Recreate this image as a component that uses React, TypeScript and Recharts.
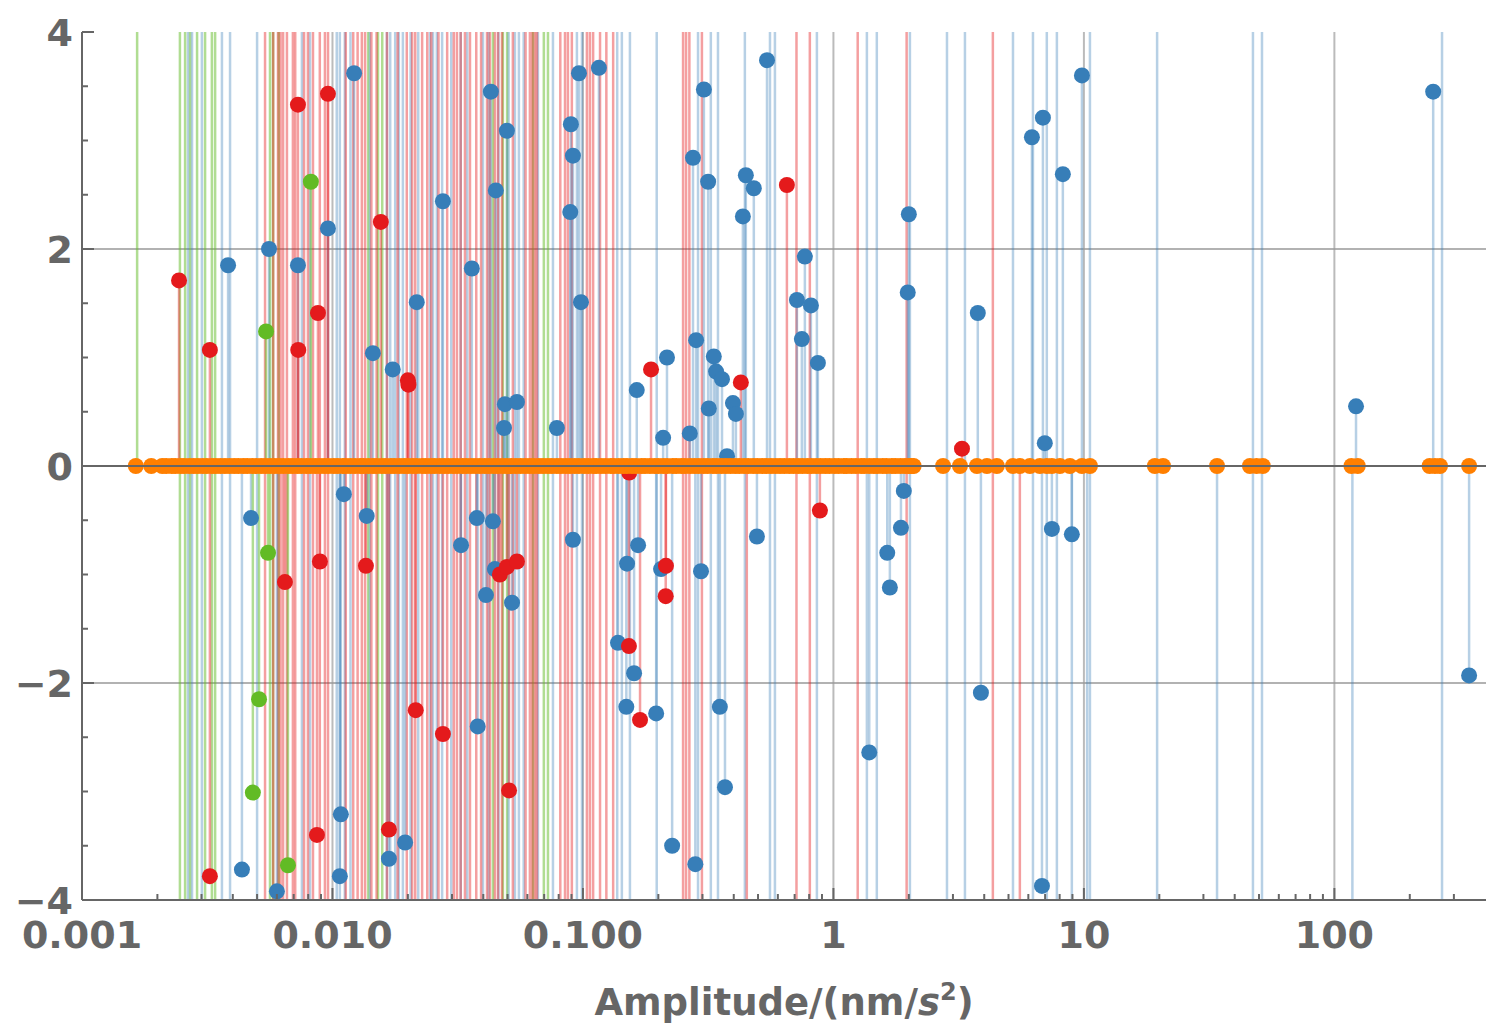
import React from 'react';
import { ComposedChart, Scatter, XAxis, YAxis, ReferenceLine } from 'recharts';

// amplitude (nm/s^2) vs. value
const bluePoints: [number, number][] = [
  [0.00383, 1.85], [0.00558, 2.0], [0.00728, 1.85], [0.00959, 2.19], [0.0122, 3.62],
  [0.0217, 1.51], [0.0276, 2.44], [0.036, 1.82], [0.0429, 3.45], [0.0449, 2.54],
  [0.0497, 3.09], [0.0145, 1.04], [0.0174, 0.89], [0.0488, 0.57], [0.0545, 0.59],
  [0.0484, 0.35], [0.0787, 0.35], [0.0895, 3.15], [0.0912, 2.86], [0.089, 2.34],
  [0.0964, 3.62], [0.1158, 3.67], [0.0982, 1.51], [0.164, 0.7], [0.2165, 1.0],
  [0.209, 0.26], [0.267, 0.3], [0.275, 2.84], [0.304, 3.47], [0.316, 2.62],
  [0.283, 1.16], [0.333, 1.01], [0.34, 0.87], [0.359, 0.8], [0.318, 0.53],
  [0.397, 0.58], [0.408, 0.48], [0.376, 0.09], [0.447, 2.68], [0.481, 2.56],
  [0.435, 2.3], [0.543, 3.74], [0.769, 1.93], [0.715, 1.53], [0.813, 1.48],
  [0.748, 1.17], [0.867, 0.95], [2.0, 2.32], [1.98, 1.6], [3.77, 1.41],
  [6.2, 3.03], [6.86, 3.21], [8.24, 2.69], [9.82, 3.6], [6.98, 0.21],
  [122, 0.55], [248, 3.45],
  [0.00473, -0.48], [0.0111, -0.26], [0.0137, -0.46], [0.0326, -0.73], [0.0377, -0.48],
  [0.0437, -0.51], [0.0445, -0.95], [0.041, -1.19], [0.0521, -1.26], [0.0912, -0.68],
  [0.15, -0.9], [0.166, -0.73], [0.205, -0.95], [0.296, -0.97], [0.138, -1.63],
  [0.16, -1.91], [0.149, -2.22], [0.196, -2.28], [0.352, -2.22], [0.495, -0.65],
  [0.369, -2.96], [0.227, -3.5], [0.281, -3.67], [0.038, -2.4], [0.0108, -3.21],
  [0.0195, -3.47], [0.0168, -3.62], [0.0107, -3.78], [0.00435, -3.72], [0.006, -3.92],
  [1.39, -2.64], [1.64, -0.8], [1.68, -1.12], [1.86, -0.57], [1.91, -0.23],
  [3.88, -2.09], [7.45, -0.58], [8.95, -0.63], [6.8, -3.87], [345, -1.93],
];

const redPoints: [number, number][] = [
  [0.00244, 1.71], [0.00324, 1.07], [0.00728, 3.33], [0.00959, 3.43], [0.0073, 1.07],
  [0.00875, 1.41], [0.0156, 2.25], [0.02, 0.79], [0.0201, 0.75], [0.187, 0.89],
  [0.427, 0.77], [0.652, 2.59], [3.26, 0.16], [0.883, -0.41], [0.00646, -1.07],
  [0.00891, -0.88], [0.0136, -0.92], [0.0466, -1.0], [0.0497, -0.93], [0.0545, -0.88],
  [0.2145, -0.92], [0.214, -1.2], [0.1526, -1.66], [0.169, -2.34], [0.0215, -2.25],
  [0.0276, -2.47], [0.0507, -2.99], [0.00867, -3.4], [0.0168, -3.35], [0.00324, -3.78],
  [0.153, -0.06],
];

const greenPoints: [number, number][] = [
  [0.0082, 2.62], [0.00543, 1.24], [0.00553, -0.8], [0.00509, -2.15], [0.00481, -3.01],
  [0.00664, -3.68],
];

// orange series sits on zero, dense up to ~2 nm/s^2
const orangeX = [
  0.00164, 0.00189, 0.00209, 0.00217, 0.00228, 0.00236, 0.00247, 0.00256, 0.00268, 0.00279,
  0.0029, 0.00303, 0.00315, 0.0033, 0.00342, 0.00357, 0.00372, 0.00388, 0.00405, 0.00421,
  0.0044, 0.00457, 0.00478, 0.00497, 0.00519, 0.0054, 0.00563, 0.00587, 0.00612, 0.00637,
  0.00666, 0.00693, 0.00723, 0.00752, 0.00786, 0.00817, 0.00853, 0.00888, 0.00927, 0.00964,
  0.0101, 0.0105, 0.011, 0.0113, 0.0118, 0.0123, 0.0129, 0.0133, 0.0139, 0.0145,
  0.015, 0.0157, 0.0163, 0.0171, 0.0177, 0.0185, 0.0193, 0.02, 0.0209, 0.0217,
  0.0228, 0.0236, 0.0247, 0.0256, 0.0268, 0.0279, 0.029, 0.0303, 0.0315, 0.033,
  0.0342, 0.0357, 0.0372, 0.0388, 0.0405, 0.0421, 0.044, 0.0457, 0.0478, 0.0497,
  0.0519, 0.054, 0.0563, 0.0587, 0.0612, 0.0637, 0.0666, 0.0693, 0.0723, 0.0752,
  0.0786, 0.0817, 0.0853, 0.0888, 0.0927, 0.0964,
  0.101, 0.105, 0.11, 0.113, 0.118, 0.123, 0.129, 0.133, 0.139, 0.145,
  0.15, 0.157, 0.163, 0.171, 0.177, 0.185, 0.193, 0.2, 0.209, 0.217,
  0.228, 0.236, 0.247, 0.256, 0.268, 0.279, 0.29, 0.303, 0.315, 0.33,
  0.342, 0.357, 0.372, 0.388, 0.405, 0.421, 0.44, 0.457, 0.478, 0.497,
  0.519, 0.54, 0.563, 0.587, 0.612, 0.637, 0.666, 0.693, 0.723, 0.752,
  0.786, 0.817, 0.853, 0.888, 0.927, 0.964,
  1.01, 1.05, 1.1, 1.13, 1.18, 1.23, 1.29, 1.33, 1.39, 1.45,
  1.5, 1.57, 1.63, 1.71, 1.77, 1.85, 1.93, 2.0, 2.05, 2.09,
  2.74, 3.2, 3.74, 4.1, 4.49, 5.21, 5.55, 6.09, 6.67, 7.11, 7.45, 8.02, 8.79, 9.82, 10.57,
  19.2, 20.7, 34.0, 46.0, 48.9, 51.8, 117, 124, 240, 252, 264, 345,
];

// spikes that run past the plot range
const blueLines = [
  0.00265, 0.00275, 0.00301, 0.00362, 0.0039, 0.005, 0.00755, 0.00813, 0.0104, 0.0107,
  0.0112, 0.0118, 0.0141, 0.0165, 0.017, 0.0178, 0.0184, 0.0191, 0.0205, 0.022,
  0.0245, 0.0252, 0.0261, 0.0274, 0.0298, 0.0325, 0.0345, 0.0399, 0.042, 0.046,
  0.0505, 0.0535, 0.0555, 0.058, 0.0661, 0.0759, 0.0946, 0.0991, 0.137, 0.143,
  0.154, 0.197, 0.288, 0.324, 0.346, 0.443, 0.558, 0.584, 0.859, 1.36,
  1.49, 2.02, 2.84, 3.35, 5.21, 6.26, 7.11, 7.8, 10.57, 19.6,
  47.3, 51.4, 269,
];
const blueDown = [8.95, 10.3, 34.0, 118];
const redLines = [
  0.00538, 0.0058, 0.00606, 0.0062, 0.00635, 0.00658, 0.00695, 0.0071, 0.0077, 0.00798,
  0.00836, 0.0089, 0.00933, 0.0096, 0.0113, 0.0121, 0.0126, 0.0131, 0.0135, 0.0143,
  0.015, 0.0165, 0.0182, 0.0198, 0.0208, 0.0214, 0.0228, 0.0239, 0.0248, 0.0265,
  0.0287, 0.0305, 0.0314, 0.0325, 0.0338, 0.0354, 0.0375, 0.0392, 0.0414, 0.0425,
  0.0445, 0.0458, 0.0475, 0.0525, 0.059, 0.0614, 0.0628, 0.0643, 0.0655, 0.0812,
  0.0848, 0.0871, 0.0903, 0.1037, 0.1066, 0.1098, 0.117, 0.124, 0.132, 0.251,
  0.258, 0.266, 0.2985, 0.712, 0.805, 1.25, 1.96, 4.33,
];
const redDown = [0.451, 5.55];
const greenLines = [
  0.00246, 0.00258, 0.0027, 0.00288, 0.0031, 0.0033, 0.0034, 0.00563, 0.00579, 0.0061,
  0.0139, 0.0152, 0.0158, 0.0437, 0.0479, 0.0498, 0.0632, 0.0698, 0.0725,
];
const greenUp = [0.00166];

const xMajor = [0.001, 0.01, 0.1, 1, 10, 100];
const xMajorLabels = ['0.001', '0.010', '0.100', '1', '10', '100'];
const xMinor = [
  0.002, 0.003, 0.004, 0.005, 0.006, 0.007, 0.008, 0.009,
  0.02, 0.03, 0.04, 0.05, 0.06, 0.07, 0.08, 0.09,
  0.2, 0.3, 0.4, 0.5, 0.6, 0.7, 0.8, 0.9,
  2, 3, 4, 5, 6, 7, 8, 9,
  20, 30, 40, 50, 60, 70, 80, 90,
  200, 300,
];
const yMajor = [-4, -2, 0, 2, 4];
const yMajorLabels = ['\u22124', '\u22122', '0', '2', '4'];
const yMinor = [-3.5, -3, -2.5, -1.5, -1, -0.5, 0.5, 1, 1.5, 2.5, 3, 3.5];
const xGrid = [0.01, 0.1, 1, 10, 100];
const yGrid = [-2, 2];

const BLUE = '#377eb8';
const RED = '#e41a1c';
const GREEN = '#62bb25';
const ORANGE = '#ff7f00';
const AXIS = '#666666';
const FONT = '"DejaVu Sans", sans-serif';

const toXY = (pts: [number, number][]) => pts.map(([x, y]) => ({ x, y }));

const dot = (color: string) => (p: any) => (
  <circle cx={p.cx} cy={p.cy} r={8} fill={color} />
);

function BottomTick({ x, y, payload }: any) {
  const i = xMajor.indexOf(payload.value);
  return (
    <g>
      <line x1={x} x2={x} y1={y} y2={y - (i >= 0 ? 12 : 6)} stroke={AXIS} strokeWidth={2} />
      {i >= 0 && (
        <text x={x} y={y + 48} textAnchor="middle" fill={AXIS} fontSize={38} fontWeight="bold" fontFamily={FONT}>
          {xMajorLabels[i]}
        </text>
      )}
    </g>
  );
}

function TopTick({ x, y, payload }: any) {
  const major = xMajor.indexOf(payload.value) >= 0;
  return <line x1={x} x2={x} y1={y} y2={y + (major ? 12 : 6)} stroke={AXIS} strokeWidth={2} />;
}

function LeftTick({ x, y, payload }: any) {
  const i = yMajor.indexOf(payload.value);
  return (
    <g>
      <line x1={x} x2={x + (i >= 0 ? 12 : 6)} y1={y} y2={y} stroke={AXIS} strokeWidth={2} />
      {i >= 0 && (
        <text x={x - 9} y={y} dy="0.36em" textAnchor="end" fill={AXIS} fontSize={38} fontWeight="bold" fontFamily={FONT}>
          {yMajorLabels[i]}
        </text>
      )}
    </g>
  );
}

function RightTick({ x, y, payload }: any) {
  const major = yMajor.indexOf(payload.value) >= 0;
  return <line x1={x} x2={x - (major ? 12 : 6)} y1={y} y2={y} stroke={AXIS} strokeWidth={2} />;
}

function AxisTitle({ viewBox }: any) {
  const cx = viewBox.x + viewBox.width / 2;
  return (
    <text x={cx} y={viewBox.y + 115} textAnchor="middle" fill={AXIS} fontSize={37} fontWeight="bold" fontFamily={FONT}>
      Amplitude/(nm/<tspan fontStyle="italic">s</tspan>
      <tspan dy={-15} fontSize={24}>2</tspan>
      <tspan dy={15}>)</tspan>
    </text>
  );
}

export default function App() {
  const spike = { strokeWidth: 2.5 };
  const bOp = 0.36;
  const rOp = 0.42;
  const gOp = 0.5;
  return (
    <div style={{ position: 'absolute', left: 0, top: 0, background: '#fff' }}>
      <ComposedChart width={1488} height={1027} margin={{ top: 32, right: 2, bottom: 0, left: 0 }}>
        <XAxis
          dataKey="x"
          type="number"
          scale="log"
          domain={[0.001, 403]}
          allowDataOverflow
          ticks={[...xMajor, ...xMinor]}
          interval={0}
          tick={<BottomTick />}
          tickSize={0}
          tickMargin={0}
          tickLine={false}
          height={127}
          axisLine={{ stroke: AXIS, strokeWidth: 2 }}
          label={<AxisTitle />}
        />
        <XAxis
          xAxisId="top"
          orientation="top"
          type="number"
          scale="log"
          domain={[0.001, 403]}
          allowDataOverflow
          ticks={[...xMajor, ...xMinor]}
          interval={0}
          tick={<TopTick />}
          tickSize={0}
          tickMargin={0}
          tickLine={false}
          height={0}
          axisLine={{ stroke: AXIS, strokeWidth: 2 }}
        />
        <YAxis
          dataKey="y"
          type="number"
          domain={[-4, 4]}
          allowDataOverflow
          ticks={[...yMajor, ...yMinor]}
          interval={0}
          tick={<LeftTick />}
          tickSize={0}
          tickMargin={0}
          tickLine={false}
          width={82}
          axisLine={{ stroke: AXIS, strokeWidth: 2 }}
        />
        <YAxis
          yAxisId="right"
          orientation="right"
          type="number"
          domain={[-4, 4]}
          allowDataOverflow
          ticks={[...yMajor, ...yMinor]}
          interval={0}
          tick={<RightTick />}
          tickSize={0}
          tickMargin={0}
          tickLine={false}
          width={0}
          axisLine={{ stroke: AXIS, strokeWidth: 2 }}
        />

        {xGrid.map((v) => (
          <ReferenceLine key={`gx${v}`} x={v} stroke="#bbbbbb" strokeWidth={2} zIndex={-60} />
        ))}
        {yGrid.map((v) => (
          <ReferenceLine key={`gy${v}`} y={v} stroke="#999999" strokeWidth={1.5} zIndex={-60} />
        ))}

        {greenLines.map((v) => (
          <ReferenceLine key={`gl${v}`} x={v} stroke={GREEN} strokeOpacity={gOp} {...spike} zIndex={-50} />
        ))}
        {greenUp.map((v) => (
          <ReferenceLine key={`gu${v}`} segment={[{ x: v, y: 0 }, { x: v, y: 4 }]} stroke={GREEN} strokeOpacity={gOp} {...spike} zIndex={-50} />
        ))}
        {blueLines.map((v) => (
          <ReferenceLine key={`bl${v}`} x={v} stroke={BLUE} strokeOpacity={bOp} {...spike} zIndex={-50} />
        ))}
        {blueDown.map((v) => (
          <ReferenceLine key={`bd${v}`} segment={[{ x: v, y: 0 }, { x: v, y: -4 }]} stroke={BLUE} strokeOpacity={bOp} {...spike} zIndex={-50} />
        ))}
        {redLines.map((v) => (
          <ReferenceLine key={`rl${v}`} x={v} stroke={RED} strokeOpacity={rOp} {...spike} zIndex={-50} />
        ))}
        {redDown.map((v) => (
          <ReferenceLine key={`rd${v}`} segment={[{ x: v, y: 0 }, { x: v, y: -4 }]} stroke={RED} strokeOpacity={rOp} {...spike} zIndex={-50} />
        ))}

        {bluePoints.map(([x, y], i) => (
          <ReferenceLine key={`bs${i}`} segment={[{ x, y: 0 }, { x, y }]} stroke={BLUE} strokeOpacity={bOp} {...spike} zIndex={-40} />
        ))}
        {redPoints.map(([x, y], i) => (
          <ReferenceLine key={`rs${i}`} segment={[{ x, y: 0 }, { x, y }]} stroke={RED} strokeOpacity={rOp} {...spike} zIndex={-40} />
        ))}
        {greenPoints.map(([x, y], i) => (
          <ReferenceLine key={`gs${i}`} segment={[{ x, y: 0 }, { x, y }]} stroke={GREEN} strokeOpacity={gOp} {...spike} zIndex={-40} />
        ))}

        <Scatter data={toXY(bluePoints)} shape={dot(BLUE)} isAnimationActive={false} zIndex={600} />
        <Scatter data={toXY(redPoints)} shape={dot(RED)} isAnimationActive={false} zIndex={601} />
        <Scatter data={toXY(greenPoints)} shape={dot(GREEN)} isAnimationActive={false} zIndex={602} />
        <Scatter data={orangeX.map((x) => ({ x, y: 0 }))} shape={dot(ORANGE)} isAnimationActive={false} zIndex={603} />

        <ReferenceLine y={0} stroke={AXIS} strokeWidth={2} zIndex={700} />
      </ComposedChart>
    </div>
  );
}
